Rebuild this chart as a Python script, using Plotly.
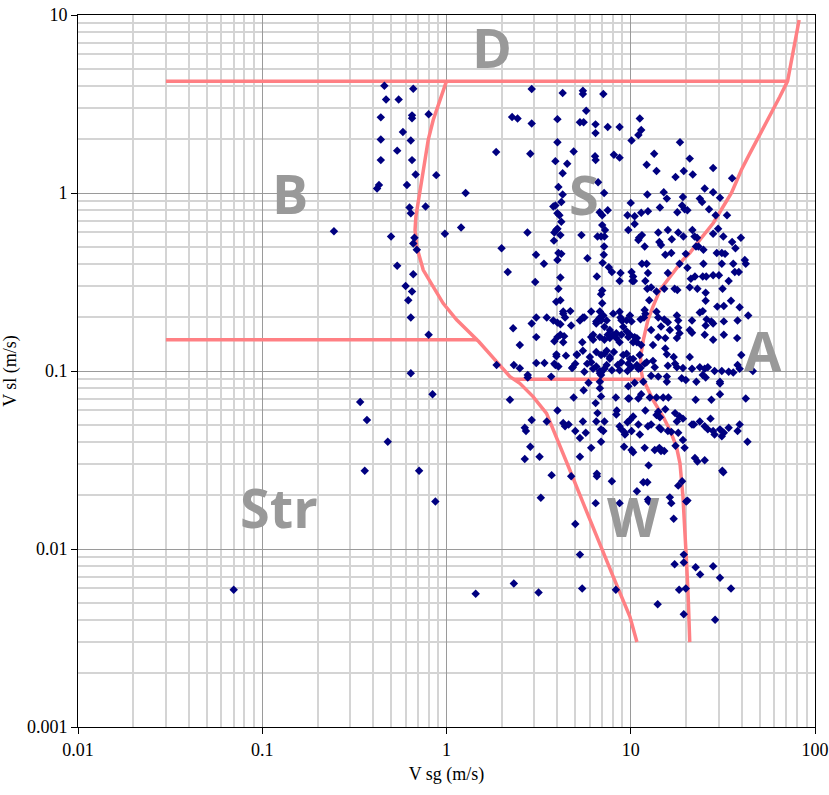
import numpy as np
import plotly.graph_objects as go

# ---- measured data points: superficial gas velocity vs superficial liquid velocity (m/s)
vsg_bubble = [0.46, 0.66, 0.47, 0.55, 0.44, 0.65, 0.65, 0.8, 0.58, 0.44, 0.64, 0.54, 0.44, 0.65,
              0.68, 0.88, 0.43, 0.42, 0.61, 1.27, 0.63, 0.77, 0.64, 0.245, 0.5, 0.98, 1.2, 0.67,
              0.66, 0.69, 0.54, 0.66, 0.6, 0.65, 0.62, 0.64, 0.8, 0.64, 0.84, 0.34, 0.37, 0.48,
              0.36, 0.71, 0.87, 1.44, 2.32, 3.16, 0.07]
vsl_bubble = [4.0, 3.85, 3.35, 3.35, 2.66, 2.73, 2.63, 2.77, 2.2, 2.0, 1.97, 1.73, 1.53, 1.53,
              1.27, 1.26, 1.11, 1.06, 1.11, 1.0, 0.83, 0.84, 0.77, 0.61, 0.57, 0.59, 0.64, 0.56,
              0.52, 0.48, 0.39, 0.35, 0.30, 0.28, 0.25, 0.2, 0.16, 0.097, 0.074, 0.067, 0.053, 0.04,
              0.0275, 0.0275, 0.0185, 0.0056, 0.0064, 0.0057, 0.0059]

vsg_slug = [2.75, 1.99, 3.06, 2.9, 4.27, 5.5, 5.5, 7.1, 2.27, 2.43, 2.9, 4.0, 5.73, 5.3, 5.55,
            6.44, 7.5, 8.7, 6.44, 1.86, 2.85, 4.0, 3.9, 4.52, 4.9, 6.4, 6.45, 8.1, 8.7, 4.27,
            6.65, 4.05, 7.17, 4.27, 4.2, 3.9, 3.8, 4.0, 4.1, 6.78, 7.0, 7.5, 4.2, 3.94, 4.0,
            3.85, 4.15, 7.0, 7.25, 6.6, 6.9, 7.2, 5.4, 3.83, 4.05, 4.2, 7.17, 7.14, 4.0, 5.82,
            3.38, 7.04, 7.6, 7.9, 8.8, 8.7, 2.15, 3.03, 4.15, 6.55, 4.05, 7.0, 6.9, 4.15, 3.94,
            7.0, 4.3, 4.4, 4.7, 6.1, 6.8, 3.07, 3.5, 5.5, 5.6, 3.8, 2.9, 4.0, 4.15, 4.75,
            2.3, 3.07, 2.5, 3.85, 4.0, 4.35, 4.3, 5.46, 6.25, 6.1,
            8.03, 8.7, 8.8, 9.0, 9.5, 9.9, 10.1, 6.8, 7.1, 7.4, 7.2, 6.5, 5.3, 4.3,
            7.7, 8.0, 8.35, 8.9, 9.9, 10.8, 10.3, 6.25, 6.8, 7.2, 4.15, 5.1, 5.5, 6.0,
            6.5, 6.9, 7.7, 8.1, 9.5, 10.3, 10.1, 11.0, 12.2, 3.95, 4.85, 3.7, 6.25, 6.8, 7.2,
            6.5, 6.9, 7.5, 7.7, 8.35, 8.9, 9.1, 9.5, 9.7, 8.7, 10.3, 10.4]
vsl_slug = [0.6, 0.49, 0.45, 3.84, 3.65, 3.75, 3.6, 3.6, 2.67, 2.62, 2.46, 2.6, 2.9, 2.5, 2.5,
            2.43, 2.35, 2.35, 2.17, 1.7, 1.66, 1.93, 1.51, 1.46, 1.71, 1.61, 1.53, 1.64, 1.58, 1.29,
            1.15, 1.08, 1.0, 0.98, 0.89, 0.85, 0.84, 0.77, 0.75, 0.78, 0.75, 0.8, 0.69, 0.62, 0.63,
            0.6, 0.58, 0.66, 0.62, 0.57, 0.57, 0.57, 0.58, 0.54, 0.46, 0.455, 0.5, 0.45, 0.42, 0.43,
            0.4, 0.405, 0.383, 0.36, 0.355, 0.32, 0.36, 0.316, 0.335, 0.34, 0.29, 0.283, 0.27, 0.25, 0.245,
            0.24, 0.216, 0.2, 0.217, 0.216, 0.216, 0.2, 0.2, 0.2, 0.2, 0.192, 0.185, 0.187, 0.183, 0.18,
            0.174, 0.155, 0.14, 0.147, 0.155, 0.157, 0.145, 0.145, 0.16, 0.155,
            0.21, 0.215, 0.2, 0.192, 0.193, 0.205, 0.19, 0.2, 0.205, 0.192, 0.177, 0.19, 0.192, 0.21,
            0.17, 0.16, 0.153, 0.16, 0.16, 0.153, 0.145, 0.15, 0.155, 0.15, 0.16, 0.123, 0.13, 0.12,
            0.128, 0.123, 0.12, 0.128, 0.125, 0.117, 0.105, 0.103, 0.112, 0.121, 0.105, 0.093, 0.103, 0.097, 0.103,
            0.185, 0.193, 0.16, 0.153, 0.163, 0.193, 0.177, 0.167, 0.155, 0.145, 0.34, 0.32]

vsg_annular = [11.2, 11.4, 11.0, 10.1, 18.5, 13.4, 20.9, 12.2, 13.8, 19.4, 21.7, 28.0, 17.5, 35.5,
               25.2, 28.0, 15.1, 15.7, 12.3, 10.0, 14.4, 19.2, 19.0, 19.6, 20.3, 23.7, 24.4, 30.5,
               26.6, 28.9, 33.3, 17.9, 12.4, 11.4, 10.5, 10.5, 9.6, 9.7, 14.1, 15.9, 18.1, 19.3,
               21.6, 22.2, 22.9, 28.0, 29.8, 31.8, 39.6, 11.1, 11.5, 11.0, 14.3, 14.6, 16.7, 11.9,
               15.4, 16.6, 19.9, 22.6, 23.3, 24.8, 29.3, 31.2, 32.5, 35.5, 37.0, 41.6, 42.1, 11.5,
               12.2, 18.4, 20.3, 24.8, 31.2, 36.0, 36.7, 38.6, 10.1, 12.4, 10.2, 12.0, 15.9, 21.2,
               22.3, 24.6, 25.7, 28.0, 30.1, 34.0, 12.3, 12.9, 13.8, 15.2, 17.3, 17.9, 20.9, 23.0,
               25.5, 31.5, 12.6, 25.5, 35.0, 29.5, 32.0, 39.0, 23.7, 24.6, 43.4, 11.9, 12.0, 11.3,
               11.8, 13.8, 14.1, 15.2, 15.9, 17.8, 18.1, 21.5, 25.8, 27.4, 28.0, 32.0, 38.0, 25.5,
               14.6, 16.3, 18.1, 18.4, 17.8, 20.9, 21.5, 25.2, 28.0, 32.0, 37.8, 14.1, 15.4, 12.9,
               13.2, 10.5, 10.8, 11.4]
vsl_annular = [2.62, 2.26, 2.12, 1.97, 1.93, 1.66, 1.56, 1.44, 1.33, 1.33, 1.27, 1.38, 1.23, 1.21,
               1.06, 1.01, 1.01, 0.93, 0.98, 0.88, 0.83, 0.95, 0.85, 0.81, 0.8, 0.93, 0.89, 0.94,
               0.81, 0.75, 0.75, 0.78, 0.79, 0.775, 0.74, 0.67, 0.75, 0.62, 0.6, 0.62, 0.6, 0.57,
               0.62, 0.57, 0.56, 0.59, 0.63, 0.57, 0.56, 0.56, 0.58, 0.545, 0.53, 0.51, 0.55, 0.5,
               0.45, 0.46, 0.455, 0.5, 0.5, 0.48, 0.46, 0.46, 0.455, 0.53, 0.49, 0.42, 0.4, 0.4,
               0.4, 0.4, 0.38, 0.4, 0.4, 0.4, 0.36, 0.36, 0.36, 0.355, 0.32, 0.32, 0.355, 0.33,
               0.34, 0.34, 0.34, 0.345, 0.345, 0.32, 0.29, 0.295, 0.28, 0.29, 0.29, 0.285, 0.295, 0.29,
               0.275, 0.29, 0.25, 0.248, 0.248, 0.23, 0.232, 0.228, 0.213, 0.217, 0.205, 0.22, 0.21, 0.195,
               0.2, 0.215, 0.2, 0.195, 0.188, 0.205, 0.192, 0.192, 0.195, 0.19, 0.185, 0.19, 0.192, 0.18,
               0.178, 0.17, 0.175, 0.163, 0.153, 0.17, 0.164, 0.16, 0.15, 0.16, 0.153, 0.155, 0.153, 0.17,
               0.14, 0.155, 0.145, 0.14]

vsg_wavy = [11.2, 10.8, 11.3, 11.9, 13.2, 13.5, 9.7, 9.9, 15.4, 15.7, 17.1, 15.9, 17.8, 17.4,
            19.2, 20.9, 21.5, 23.7, 25.2, 26.2, 28.5, 31.2, 34.0, 36.0, 39.0, 38.0, 39.8, 46.0,
            12.9, 14.1, 15.7, 15.7, 18.9, 19.9, 22.7, 24.6, 25.5, 30.5, 30.5, 9.7, 10.5, 11.7,
            9.7, 11.0, 11.4, 12.7, 13.8, 15.0, 16.0, 22.5, 27.4, 30.5, 42.1, 12.0, 13.8, 14.4,
            14.1, 15.4, 17.4, 18.4, 19.2, 17.8, 21.5, 22.0, 23.7, 25.2, 26.2, 28.0, 28.5, 27.1,
            30.5, 31.2, 32.0, 34.0, 38.0, 39.0, 43.0, 9.9, 10.3, 10.1, 11.2, 11.0, 12.4, 12.9,
            14.3, 14.6, 15.9, 16.6, 18.1, 19.2, 9.3, 10.1, 10.3, 11.9, 13.5, 14.3, 14.6, 15.2,
            17.5, 19.6, 22.3, 23.0, 25.2, 31.4, 31.8, 12.5, 11.7, 12.3, 18.1, 19.0, 10.8, 12.4,
            12.5, 16.3, 16.6, 20.0, 20.3, 17.1, 19.4, 17.3, 19.4, 22.5, 23.8, 28.0, 30.5, 35.0,
            18.3, 19.9, 14.0, 19.4, 28.7]
vsl_wavy = [0.123, 0.108, 0.104, 0.11, 0.114, 0.105, 0.11, 0.117, 0.134, 0.124, 0.12, 0.107, 0.105, 0.11,
            0.104, 0.12, 0.103, 0.105, 0.103, 0.105, 0.1, 0.1, 0.099, 0.098, 0.103, 0.108, 0.123, 0.1,
            0.094, 0.093, 0.093, 0.087, 0.091, 0.089, 0.087, 0.095, 0.092, 0.087, 0.085, 0.082, 0.086, 0.087,
            0.07, 0.07, 0.074, 0.071, 0.071, 0.071, 0.071, 0.069, 0.069, 0.074, 0.07, 0.06, 0.0566, 0.055,
            0.059, 0.061, 0.058, 0.0555, 0.054, 0.052, 0.05, 0.05, 0.052, 0.049, 0.047, 0.046, 0.044, 0.054,
            0.047, 0.043, 0.045, 0.048, 0.046, 0.05, 0.04, 0.053, 0.0555, 0.046, 0.044, 0.05, 0.049, 0.05,
            0.048, 0.047, 0.046, 0.0455, 0.045, 0.041, 0.044, 0.036, 0.035, 0.037, 0.036, 0.037, 0.0355, 0.0355,
            0.038, 0.037, 0.0325, 0.031, 0.0315, 0.0275, 0.027, 0.0295, 0.0237, 0.0237, 0.0227, 0.024, 0.0211, 0.019,
            0.0185, 0.0195, 0.0181, 0.0185, 0.0187, 0.0148, 0.0093, 0.0082, 0.0084, 0.0079, 0.0072, 0.008, 0.0069, 0.006,
            0.0059, 0.006, 0.0049, 0.0043, 0.004]

vsg_mid = [1.87, 2.32, 2.5, 2.76, 2.76, 3.07, 3.4, 3.95, 3.9, 4.05, 3.85, 4.45, 4.8, 5.0,
           5.1, 5.6, 5.8, 6.1, 6.5, 6.9, 6.9, 6.8, 7.4, 7.2, 7.7, 7.4, 7.9, 8.5, 8.7, 9.1,
           8.9, 9.6, 6.8, 6.8, 6.9, 5.9, 5.55, 4.9, 4.0, 4.3, 4.4, 4.6, 5.0, 5.3, 5.5, 5.7,
           6.1, 6.45, 6.6, 6.5, 6.9, 7.1, 7.2, 6.9, 8.3, 8.4, 8.35, 8.7, 8.9, 9.3, 9.6, 9.2,
           9.8, 2.21, 2.9, 3.5, 2.66, 2.7, 2.85, 2.66, 3.2, 3.72, 4.75, 5.3, 6.55, 6.55, 7.9,
           3.25, 6.45, 8.7, 5.0, 5.3, 5.45, 8.3]
vsl_mid = [0.108, 0.108, 0.1035, 0.095, 0.092, 0.111, 0.111, 0.124, 0.108, 0.106, 0.11, 0.122, 0.104, 0.11,
           0.124, 0.099, 0.11, 0.112, 0.106, 0.098, 0.095, 0.1, 0.13, 0.125, 0.117, 0.108, 0.101, 0.108, 0.101, 0.123,
           0.112, 0.1, 0.087, 0.08, 0.072, 0.086, 0.078, 0.071, 0.06, 0.051, 0.049, 0.05, 0.046, 0.042, 0.052, 0.045,
           0.037, 0.066, 0.058, 0.052, 0.047, 0.046, 0.052, 0.04, 0.071, 0.06, 0.057, 0.049, 0.047, 0.045, 0.0515, 0.0375,
           0.07, 0.069, 0.053, 0.052, 0.048, 0.046, 0.0375, 0.032, 0.033, 0.026, 0.0256, 0.033, 0.0265, 0.0256, 0.024,
           0.0194, 0.0181, 0.0181, 0.0138, 0.0093, 0.006, 0.0059]

# ---- flow-pattern transition boundaries
left_bnd_vsg = [1.0, 0.92, 0.847, 0.796, 0.764, 0.733, 0.701, 0.682, 0.675, 0.689, 0.748, 0.847,
                0.959, 1.135, 1.34, 1.50, 1.87, 2.21, 2.50, 2.95, 3.49, 3.95, 4.67, 5.52, 6.52,
                8.03, 9.89, 10.8]
left_bnd_vsl = [4.25, 3.33, 2.57, 1.99, 1.53, 1.18, 0.914, 0.736, 0.619, 0.499, 0.369, 0.298,
                0.240, 0.194, 0.163, 0.146, 0.113, 0.093, 0.0853, 0.0718, 0.0578, 0.0427, 0.0278,
                0.0181, 0.0117, 0.00699, 0.00417, 0.003]

right_bnd_vsg = [82.0, 71.0, 64.4, 56.9, 50.2, 44.3, 39.9, 35.2, 31.7, 28.0, 23.7, 20.9, 19.2,
                 16.3, 14.4, 13.2, 12.4, 11.7, 11.3, 11.4, 11.6, 12.2, 13.2, 15.0, 16.3, 17.7,
                 18.5, 19.2, 19.7, 20.1, 20.5, 20.9]
right_bnd_vsl = [9.37, 4.25, 3.47, 2.74, 2.16, 1.67, 1.35, 1.0, 0.837, 0.676, 0.545, 0.46, 0.421,
                 0.339, 0.285, 0.23, 0.194, 0.149, 0.12, 0.1, 0.091, 0.0817, 0.0687, 0.0553, 0.0467,
                 0.0376, 0.0303, 0.0197, 0.0128, 0.0083, 0.0054, 0.003]

dispersed_vsg = [0.03, 71.0]
dispersed_vsl = [4.25, 4.25]
stratified_vsg = [0.03, 1.48]
stratified_vsl = [0.15, 0.15]
wavy_vsg = [2.3, 11.6]
wavy_vsl = [0.09, 0.09]

# ---- regime labels
regime_text = ["D", "B", "S", "A", "Str", "W"]
regime_vsg = [1.77, 0.141, 5.57, 52.0, 0.123, 10.4]
regime_vsl = [6.6, 1.0, 0.99, 0.131, 0.0172, 0.0154]

LINE_COLOR = "#FF8084"
DOT_COLOR = "#000080"
LABEL_COLOR = "#999999"
SERIF = "Liberation Serif"

fig = go.Figure()

boundaries = [
    (left_bnd_vsg, left_bnd_vsl),
    (right_bnd_vsg, right_bnd_vsl),
    (dispersed_vsg, dispersed_vsl),
    (stratified_vsg, stratified_vsl),
    (wavy_vsg, wavy_vsl),
]
for bx, by in boundaries:
    fig.add_trace(go.Scatter(x=bx, y=by, mode="lines",
                             line=dict(color=LINE_COLOR, width=3.5),
                             hoverinfo="skip", showlegend=False))

all_vsg = vsg_bubble + vsg_slug + vsg_annular + vsg_wavy + vsg_mid
all_vsl = vsl_bubble + vsl_slug + vsl_annular + vsl_wavy + vsl_mid
fig.add_trace(go.Scatter(x=all_vsg, y=all_vsl, mode="markers",
                         marker=dict(symbol="diamond", size=6.5, color=DOT_COLOR),
                         showlegend=False))

for txt, gx, gy in zip(regime_text, regime_vsg, regime_vsl):
    fig.add_annotation(x=np.log10(gx), y=np.log10(gy), xref="x", yref="y",
                       text="<b>%s</b>" % txt, showarrow=False,
                       font=dict(family="Open Sans", size=54, color=LABEL_COLOR),
                       xanchor="center", yanchor="middle")

minor_x = [m * 10.0 ** e for e in range(-2, 2) for m in range(2, 10)]
minor_y = [m * 10.0 ** e for e in range(-3, 1) for m in range(2, 10)]

tick_font = dict(family=SERIF, size=18, color="black")
title_font = dict(family=SERIF, size=18, color="black")

fig.update_xaxes(type="log", range=[-2, 2], automargin=False,
                 tickmode="array", tickvals=[0.01, 0.1, 1, 10, 100],
                 ticktext=["0.01", "0.1", "1", "10", "100"],
                 showline=True, linecolor="black", linewidth=1, mirror=True,
                 ticks="outside", ticklen=6, tickcolor="black",
                 showgrid=True, gridcolor="#9a9a9a", gridwidth=1,
                 minor=dict(tickmode="array", tickvals=minor_x, showgrid=True,
                            gridcolor="#d4d4d4", gridwidth=1.5, ticks=""),
                 zeroline=False, tickfont=tick_font,
                 title=dict(text="V sg (m/s)", font=title_font, standoff=8))
fig.update_yaxes(type="log", range=[-3, 1], automargin=False,
                 tickmode="array", tickvals=[0.001, 0.01, 0.1, 1, 10],
                 ticktext=["0.001", "0.01", "0.1", "1", "10"],
                 showline=True, linecolor="black", linewidth=1, mirror=True,
                 ticks="outside", ticklen=6, tickcolor="black",
                 showgrid=True, gridcolor="#9a9a9a", gridwidth=1,
                 minor=dict(tickmode="array", tickvals=minor_y, showgrid=True,
                            gridcolor="#d4d4d4", gridwidth=1.5, ticks=""),
                 zeroline=False, tickfont=tick_font,
                 title=dict(text="V sl (m/s)", font=title_font, standoff=6))

fig.update_layout(width=829, height=795,
                  margin=dict(l=78, r=14, t=15, b=68),
                  paper_bgcolor="white", plot_bgcolor="white",
                  hovermode="closest")

fig.write_html("out.html")
